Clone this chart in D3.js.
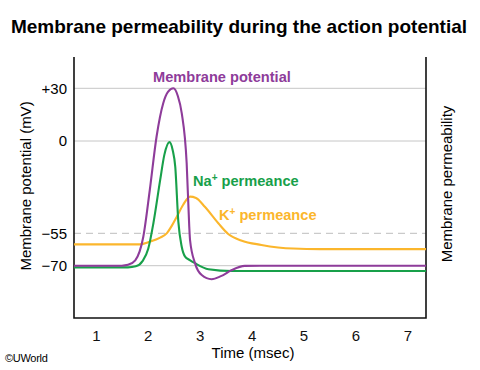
<!DOCTYPE html>
<html>
<head>
<meta charset="utf-8">
<script src="https://cdn.jsdelivr.net/npm/d3@7"></script>
<style>
  body { margin: 0; background: #fff; }
  text { font-family: "Liberation Sans", Arial, sans-serif; }
</style>
</head>
<body>
<div class="chart"></div>
<script>
// data
var potTime = [0.58, 1.50, 1.62, 1.76, 1.915, 2.04, 2.17, 2.30, 2.39, 2.495, 2.58, 2.655, 2.75, 2.80, 2.815, 2.91, 3.04, 3.23, 3.41, 3.62, 3.87, 4.16, 7.36];
var potValues = [-70, -70, -69.6, -67.5, -56.6, -29.2, 2.4, 21.6, 27.9, 30, 25.6, 15.9, -13.1, -51, -58.1, -68.8, -74.3, -76.2, -74.8, -72, -70.1, -70, -70];

var naTime = [0.58, 1.62, 1.77, 1.90, 2.01, 2.11, 2.24, 2.32, 2.42, 2.48, 2.53, 2.59, 2.655, 2.72, 2.81, 2.91, 3.17, 3.62, 7.36];
var naValues = [0.194, 0.194, 0.198, 0.218, 0.265, 0.364, 0.529, 0.625, 0.674, 0.644, 0.58, 0.368, 0.273, 0.235, 0.222, 0.21, 0.187, 0.18, 0.18];

var kTime = [0.58, 1.85, 2.04, 2.24, 2.37, 2.46, 2.56, 2.68, 2.815, 2.93, 3.10, 3.36, 3.55, 3.80, 4.19, 4.8, 5.32, 7.36];
var kValues = [0.282, 0.282, 0.292, 0.308, 0.325, 0.352, 0.388, 0.433, 0.465, 0.46, 0.426, 0.363, 0.322, 0.297, 0.28, 0.266, 0.264, 0.264];

var xTicks = [1, 2, 3, 4, 5, 6, 7];
var yTicks = [30, 0, -55, -70];
var yTickLabels = ["+30", "0", "\u221255", "\u221270"];
var dashedTicks = [-55];

var svgWidth = 480;
var svgHeight = 370;
var margin = { top: 57, right: 54, bottom: 52, left: 74 };
var width = svgWidth - margin.left - margin.right;
var height = svgHeight - margin.top - margin.bottom;

var purple = "#8e3c9a";
var green = "#18a04a";
var yellow = "#fbb62c";

var svg = d3.select(".chart")
  .append("svg")
  .attr("width", svgWidth)
  .attr("height", svgHeight);

var chartGroup = svg.append("g")
  .attr("transform", `translate(${margin.left}, ${margin.top})`);

// scales (the drawing's potential axis is not evenly spaced)
var xScale = d3.scaleLinear()
  .domain([0.58, 7.36])
  .range([0, width]);
var yScale = d3.scaleLinear()
  .domain([-94, -70, -55, 0, 30, 47.8])
  .range([height, 208.7, 176.3, 84, 31.3, 0]);
var pScale = d3.scaleLinear()
  .domain([0, 1])
  .range([height, 0]);

// gridlines
chartGroup.selectAll(".grid")
  .data(yTicks)
  .enter()
  .append("line")
  .attr("x1", 0)
  .attr("x2", width)
  .attr("y1", d => yScale(d))
  .attr("y2", d => yScale(d))
  .attr("stroke", d => dashedTicks.includes(d) ? "#bdbdbd" : "#c6c6c6")
  .attr("stroke-width", 1)
  .attr("stroke-dasharray", d => dashedTicks.includes(d) ? "7,5" : null);

// y tick labels
chartGroup.selectAll(".ylab")
  .data(yTicks)
  .enter()
  .append("text")
  .attr("x", -7)
  .attr("y", d => yScale(d))
  .attr("dy", "0.36em")
  .style("text-anchor", "end")
  .style("font-size", "15px")
  .text((d, i) => yTickLabels[i]);

// x axis labels
var bottomAxis = d3.axisBottom(xScale)
  .tickValues(xTicks)
  .tickSize(0)
  .tickPadding(12)
  .tickFormat(d3.format("d"));
var xAxisG = chartGroup.append("g")
  .attr("transform", `translate(0, ${height})`)
  .call(bottomAxis);
xAxisG.select(".domain").remove();
xAxisG.selectAll("text")
  .style("font-size", "15px")
  .style("font-family", "Liberation Sans, Arial, sans-serif")
  .attr("fill", "#111");

// axis lines
chartGroup.append("path")
  .attr("d", `M0,0V${height}H${width}V0`)
  .attr("fill", "none")
  .attr("stroke", "#111")
  .attr("stroke-width", 1.6);

// curves
var potLine = d3.line()
  .x((d, i) => xScale(potTime[i]))
  .y(d => yScale(d))
  .curve(d3.curveMonotoneX);
var permLine = function(times) {
  return d3.line()
    .x((d, i) => xScale(times[i]))
    .y(d => pScale(d))
    .curve(d3.curveMonotoneX);
};

chartGroup.append("path")
  .datum(kValues)
  .attr("d", permLine(kTime))
  .attr("fill", "none")
  .attr("stroke", yellow)
  .attr("stroke-width", 2.1);

chartGroup.append("path")
  .datum(naValues)
  .attr("d", permLine(naTime))
  .attr("fill", "none")
  .attr("stroke", green)
  .attr("stroke-width", 2.1);

chartGroup.append("path")
  .datum(potValues)
  .attr("d", potLine)
  .attr("fill", "none")
  .attr("stroke", purple)
  .attr("stroke-width", 2.1);

// curve labels
svg.append("text")
  .attr("x", 153)
  .attr("y", 82)
  .style("font-size", "14.6px")
  .style("font-weight", "bold")
  .attr("fill", purple)
  .text("Membrane potential");

var naText = svg.append("text")
  .attr("x", 193)
  .attr("y", 186)
  .style("font-size", "14.6px")
  .style("font-weight", "bold")
  .attr("fill", green);
naText.append("tspan").text("Na");
naText.append("tspan").attr("dy", -5).style("font-size", "10px").text("+");
naText.append("tspan").attr("dy", 5).text(" permeance");

var kText = svg.append("text")
  .attr("x", 219)
  .attr("y", 220)
  .style("font-size", "14.6px")
  .style("font-weight", "bold")
  .attr("fill", yellow);
kText.append("tspan").text("K");
kText.append("tspan").attr("dy", -5).style("font-size", "10px").text("+");
kText.append("tspan").attr("dy", 5).text(" permeance");

// title
svg.append("text")
  .attr("x", 239)
  .attr("y", 33)
  .style("text-anchor", "middle")
  .style("font-size", "19px")
  .style("font-weight", "bold")
  .text("Membrane permeability during the action potential");

// axis titles
svg.append("text")
  .attr("transform", "translate(31, 186) rotate(-90)")
  .style("text-anchor", "middle")
  .style("font-size", "15px")
  .text("Membrane potential (mV)");

svg.append("text")
  .attr("transform", "translate(452, 184) rotate(-90)")
  .style("text-anchor", "middle")
  .style("font-size", "15px")
  .text("Membrane permeability");

svg.append("text")
  .attr("x", 253)
  .attr("y", 358)
  .style("text-anchor", "middle")
  .style("font-size", "15px")
  .text("Time (msec)");

svg.append("text")
  .attr("x", 5)
  .attr("y", 362)
  .style("font-size", "11px")
  .style("letter-spacing", "-0.3px")
  .text("\u00a9UWorld");
</script>
</body>
</html>
